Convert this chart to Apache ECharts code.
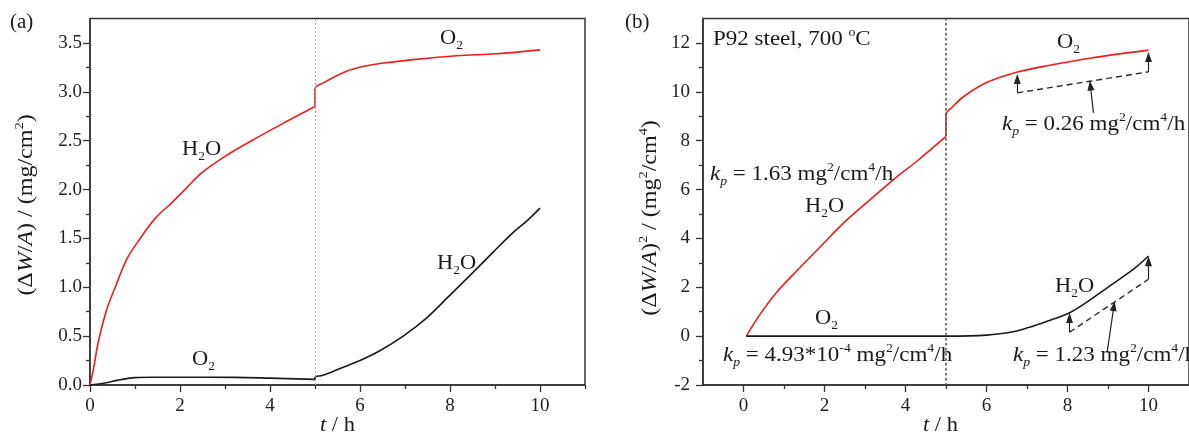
<!DOCTYPE html>
<html>
<head>
<meta charset="utf-8">
<script src="https://cdn.jsdelivr.net/npm/echarts@6/dist/echarts.min.js"></script>
<style>
html, body { margin: 0; padding: 0; background: #fff; }
#chart { width: 1189px; height: 443px; }
</style>
</head>
<body>
<div id="chart"></div>
<script>
// (a) mass gain, red = H2O then O2, black = O2 then H2O
var tRedA = [0, 0.08, 0.18, 0.37, 0.56, 0.82, 1.07, 1.44, 1.85, 2.11, 2.48, 3.0, 3.59, 4.26, 5.0, 5.0, 5.18, 5.7, 6.07, 6.44, 7.18, 8.15, 9.04, 10];
var wRedA = [0, 0.17, 0.43, 0.77, 1.0, 1.29, 1.47, 1.70, 1.88, 2.0, 2.17, 2.34, 2.50, 2.67, 2.85, 3.03, 3.09, 3.21, 3.26, 3.29, 3.33, 3.37, 3.39, 3.43];
var tBlackA = [0, 0.33, 0.63, 1.0, 1.37, 2.0, 3.22, 4.0, 5.0, 5.0, 5.18, 5.56, 6.0, 6.44, 6.96, 7.49, 8.0, 8.44, 8.96, 9.4, 9.71, 10];
var wBlackA = [0, 0.02, 0.05, 0.075, 0.08, 0.08, 0.078, 0.07, 0.058, 0.08, 0.10, 0.17, 0.25, 0.35, 0.50, 0.69, 0.92, 1.12, 1.36, 1.56, 1.68, 1.81];

// (b) squared mass gain
var tRedB = [0.07, 0.39, 0.8, 1.36, 1.85, 2.5, 3.15, 3.8, 4.28, 5.0, 5.0, 5.17, 5.43, 5.99, 6.79, 7.6, 8.59, 10];
var wRedB = [0, 0.85, 1.76, 2.75, 3.58, 4.68, 5.62, 6.54, 7.16, 8.18, 9.06, 9.4, 9.8, 10.37, 10.82, 11.1, 11.39, 11.71];
var tBlackB = [0.07, 1, 2, 3, 4, 5, 6, 6.72, 7.03, 7.36, 7.69, 8.04, 8.34, 8.98, 9.63, 10];
var wBlackB = [0, 0, 0, 0, 0, 0, 0.04, 0.2, 0.35, 0.53, 0.72, 0.95, 1.24, 1.98, 2.74, 3.28];

// kp guide lines (dashed) and arrows in (b)
var guideO2 = [[6.76, 9.96], [10, 10.82]];
var guideH2O = [[8.05, 0.16], [10, 2.33]];
var arrowsO2 = [[[6.76, 9.96], [6.76, 10.53]], [[10, 10.82], [10, 11.43]], [[8.64, 9.14], [8.565, 10.26]]];
var arrowsH2O = [[[8.05, 0.16], [8.05, 0.74]], [[10, 2.33], [10, 3.07]], [[8.98, -0.65], [9.145, 1.23]]];

// ticks
var xTicksA = [0, 2, 4, 6, 8, 10], xMinorA = [1, 3, 5, 7, 9, 11];
var yTicksA = [0, 0.5, 1, 1.5, 2, 2.5, 3, 3.5], yMinorA = [0.25, 0.75, 1.25, 1.75, 2.25, 2.75, 3.25];
var xTicksB = [0, 2, 4, 6, 8, 10], xMinorB = [1, 3, 5, 7, 9];
var yTicksB = [-2, 0, 2, 4, 6, 8, 10, 12], yMinorB = [-1, 1, 3, 5, 7, 9, 11];

var FF = "'Liberation Serif','Times New Roman',serif";
var INK = '#1a1a1a';
var RED = '#f01c1c';

function zip(a, b) { return a.map(function (v, i) { return [v, b[i]]; }); }

// split a curve at the gas switch (two points with the same t) so smoothing does not bulge
function splitAtJump(t, w) {
  var j = 0;
  for (var i = 0; i < t.length - 1; i++) if (t[i] === t[i + 1]) { j = i; break; }
  return [zip(t.slice(0, j + 1), w.slice(0, j + 1)), zip(t.slice(j), w.slice(j))];
}

function rs(size, extra) {
  return Object.assign({ fontFamily: FF, fontSize: size, fill: INK, lineHeight: 26 }, extra || {});
}
var rich = {
  n: rs(20),
  i: rs(20, { fontStyle: 'italic' }),
  sup: rs(12, { verticalAlign: 'top', lineHeight: 16 }),
  sub: rs(12, { verticalAlign: 'bottom', lineHeight: 14 }),
  isub: rs(12, { fontStyle: 'italic', verticalAlign: 'bottom', lineHeight: 12 })
};

function label(txt, x, y, opts) {
  opts = opts || {};
  return {
    type: 'text', x: x, y: y, silent: true, z: 100,
    scaleX: opts.sx || 1.12,
    rotation: opts.rot || 0,
    style: {
      text: txt, rich: rich, fontFamily: FF, fontSize: 20, fill: INK,
      align: opts.align || 'left', verticalAlign: 'middle',
      textAlign: opts.align || 'left', textVerticalAlign: 'middle'
    }
  };
}

var axisLine = { onZero: false, lineStyle: { color: '#333', width: 1.5 } };
var tickStyle = { color: '#333', width: 1.3 };
var labelStyle = { fontFamily: FF, fontSize: 19, color: '#222' };

function mainX(grid, min, max, ticks) {
  return {
    type: 'value', gridIndex: grid, position: 'bottom', min: min, max: max,
    axisLine: axisLine, splitLine: { show: false },
    axisTick: { customValues: ticks, length: 7, lineStyle: tickStyle },
    axisLabel: Object.assign({ customValues: ticks, margin: 12 }, labelStyle)
  };
}
function minorX(grid, min, max, ticks) {
  return {
    type: 'value', gridIndex: grid, position: 'bottom', min: min, max: max,
    axisLine: { show: false, onZero: false }, splitLine: { show: false },
    axisTick: { customValues: ticks, length: 4, lineStyle: tickStyle },
    axisLabel: { show: false }
  };
}
function mainY(grid, min, max, ticks, margin, fmt) {
  var lab = Object.assign({ customValues: ticks, margin: margin }, labelStyle);
  if (fmt) lab.formatter = fmt;
  return {
    type: 'value', gridIndex: grid, position: 'left', min: min, max: max,
    axisLine: axisLine, splitLine: { show: false },
    axisTick: { customValues: ticks, length: 7, lineStyle: tickStyle },
    axisLabel: lab
  };
}
function minorY(grid, min, max, ticks) {
  return {
    type: 'value', gridIndex: grid, position: 'left', min: min, max: max,
    axisLine: { show: false, onZero: false }, splitLine: { show: false },
    axisTick: { customValues: ticks, length: 4, lineStyle: tickStyle },
    axisLabel: { show: false }
  };
}

function arrowMarks(segs) {
  return {
    silent: true, symbol: ['none', 'triangle'], symbolSize: [7, 10],
    label: { show: false },
    lineStyle: { type: 'solid', color: '#222', width: 1.2 },
    data: segs.map(function (s) { return [{ coord: s[0] }, { coord: s[1] }]; })
  };
}

function curve(xi, data, color, extra) {
  return Object.assign({
    type: 'line', xAxisIndex: xi, yAxisIndex: xi, data: data,
    showSymbol: false, smooth: 0.35, lineStyle: { color: color, width: 1.6 }
  }, extra || {});
}

var redA = splitAtJump(tRedA, wRedA);
var blackA = splitAtJump(tBlackA, wBlackA);
var redB = splitAtJump(tRedB, wRedB);

var chart = echarts.init(document.getElementById('chart'));
chart.setOption({
  animation: false,
  backgroundColor: '#fff',
  grid: [
    { left: 90, top: 18.6, width: 495, height: 366.4, show: true, borderColor: '#333', borderWidth: 1.5 },
    { left: 703, top: 18.6, width: 493.2, height: 366.4, show: true, borderColor: '#333', borderWidth: 1.5 }
  ],
  xAxis: [
    mainX(0, 0, 11, xTicksA), minorX(0, 0, 11, xMinorA),
    mainX(1, -1, 11, xTicksB), minorX(1, -1, 11, xMinorB)
  ],
  yAxis: [
    mainY(0, 0, 3.75, yTicksA, 8, function (v) { return v.toFixed(1); }), minorY(0, 0, 3.75, yMinorA),
    mainY(1, -2, 13, yTicksB, 13), minorY(1, -2, 13, yMinorB)
  ],
  series: [
    curve(0, redA[0], RED, {
      markLine: {
        silent: true, symbol: ['none', 'none'], label: { show: false },
        lineStyle: { color: '#a0a0a0', type: [2, 2], width: 1 },
        data: [{ xAxis: 5 }]
      }
    }),
    curve(0, redA[1], RED),
    curve(0, blackA[0], INK),
    curve(0, blackA[1], INK),
    curve(2, redB[0], RED),
    curve(2, redB[1], RED),
    curve(2, zip(tBlackB, wBlackB), INK, {
      markLine: {
        silent: true, symbol: ['none', 'none'], label: { show: false },
        lineStyle: { color: '#555', type: [1.5, 3.5], width: 1.6, cap: 'round' },
        data: [{ xAxis: 5 }]
      }
    }),
    {
      type: 'line', xAxisIndex: 2, yAxisIndex: 2, data: guideO2, showSymbol: false,
      lineStyle: { color: '#2a2a2a', type: [6, 4], width: 1.4 },
      markLine: arrowMarks(arrowsO2)
    },
    {
      type: 'line', xAxisIndex: 2, yAxisIndex: 2, data: guideH2O, showSymbol: false,
      lineStyle: { color: '#2a2a2a', type: [6, 4], width: 1.4 },
      markLine: arrowMarks(arrowsH2O)
    }
  ],
  graphic: [
    label('{n|(a)}', 10, 23, { sx: 1.05 }),
    label('{n|(b)}', 625, 23, { sx: 1.05 }),
    label('{n|H}{sub|2}{n|O}', 182, 150),
    label('{n|O}{sub|2}', 192, 360),
    label('{n|O}{sub|2}', 440, 39),
    label('{n|H}{sub|2}{n|O}', 437, 264),
    label('{i|t}{n| / h}', 320, 426),
    label('{n|(Δ}{i|W}{n|/}{i|A}{n|) / (mg/cm}{sup|2}{n|)}', 27, 205, { align: 'center', rot: Math.PI / 2, sx: 1.2 }),
    label('{n|P92 steel, 700 }{sup|o}{n|C}', 713, 40, { sx: 1.15 }),
    label('{i|k}{isub|p}{n| = 1.63 mg}{sup|2}{n|/cm}{sup|4}{n|/h}', 710, 175, { sx: 1.15 }),
    label('{n|H}{sub|2}{n|O}', 805, 207),
    label('{n|O}{sub|2}', 815, 319),
    label('{i|k}{isub|p}{n| = 4.93*10}{sup|-4}{n| mg}{sup|2}{n|/cm}{sup|4}{n|/h}', 723, 356, { sx: 1.15 }),
    label('{n|O}{sub|2}', 1057, 43),
    label('{i|k}{isub|p}{n| = 0.26 mg}{sup|2}{n|/cm}{sup|4}{n|/h}', 1002, 125, { sx: 1.15 }),
    label('{n|H}{sub|2}{n|O}', 1055, 287),
    label('{i|k}{isub|p}{n| = 1.23 mg}{sup|2}{n|/cm}{sup|4}{n|/h}', 1013, 356, { sx: 1.15 }),
    label('{i|t}{n| / h}', 923, 426),
    label('{n|(Δ}{i|W}{n|/}{i|A}{n|)}{sup|2}{n| / (mg}{sup|2}{n|/cm}{sup|4}{n|)}', 651, 218, { align: 'center', rot: Math.PI / 2, sx: 1.2 })
  ]
});
</script>
</body>
</html>
